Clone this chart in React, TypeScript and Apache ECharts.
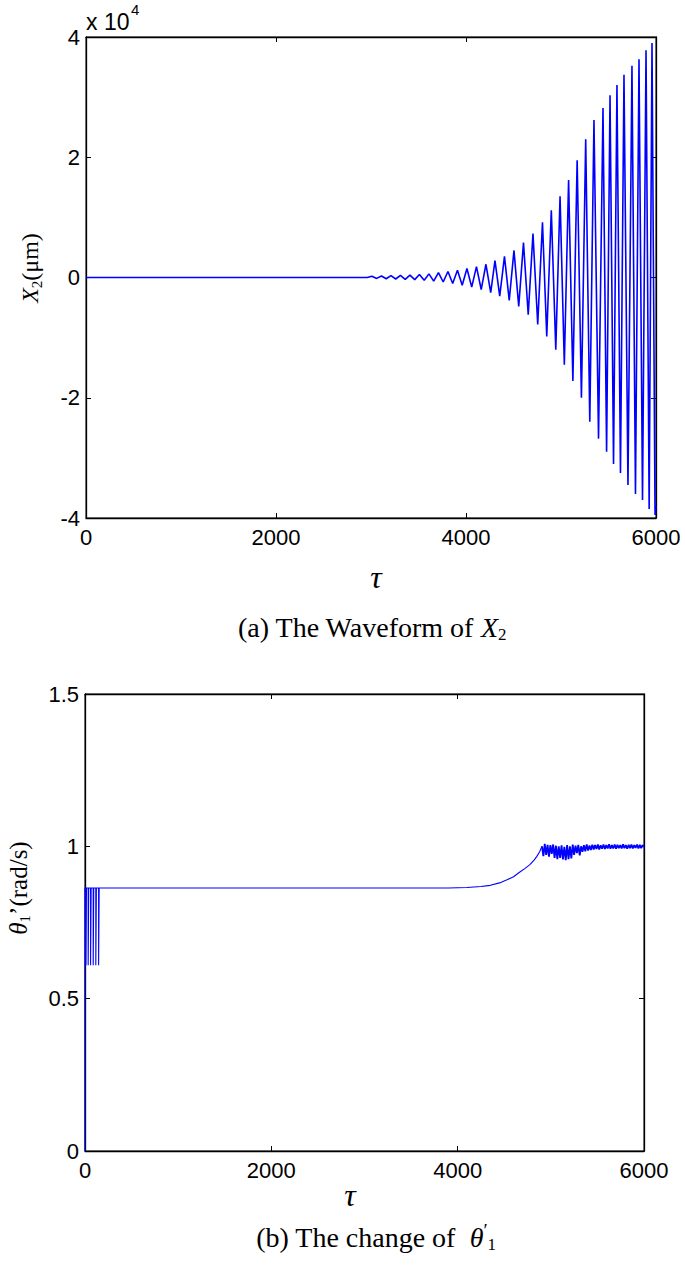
import React, { useEffect, useRef } from "react";
import * as echarts from "echarts";

// ---- Panel (a): waveform of X2 (values in units of 10^4 µm), read from extrema
const x2Tau = [
  0, 2960,
  3010, 3060, 3110, 3160, 3210, 3260, 3310, 3360, 3410, 3460,
  3510, 3560, 3610, 3660, 3710, 3760, 3810, 3860, 3910, 3960,
  4010, 4060, 4110, 4160, 4210, 4260, 4305, 4355, 4405, 4455,
  4505, 4555, 4605, 4655, 4705, 4755, 4805, 4850, 4898, 4945,
  4990, 5035, 5080, 5125, 5170, 5215, 5260, 5303, 5347, 5395,
  5442, 5480, 5516, 5553, 5589, 5626, 5663, 5705, 5747, 5784,
  5821, 5858, 5895, 5928, 5958, 5990, 6000,
];
const x2Val = [
  0, 0,
  0.02, -0.015, 0.025, -0.02, 0.03, -0.025, 0.035, -0.03, 0.04, -0.035,
  0.05, -0.045, 0.06, -0.06, 0.08, -0.075, 0.1, -0.1, 0.12, -0.13,
  0.15, -0.16, 0.18, -0.2, 0.22, -0.25, 0.28, -0.31, 0.35, -0.38,
  0.45, -0.48, 0.58, -0.62, 0.73, -0.78, 0.92, -0.98, 1.12, -1.2,
  1.35, -1.45, 1.62, -1.72, 1.95, -2.0, 2.3, -2.4, 2.62, -2.68,
  2.82, -2.9, 3.03, -3.1, 3.2, -3.25, 3.37, -3.45, 3.52, -3.6,
  3.63, -3.7, 3.78, -3.85, 3.9, -3.95, -3.8,
];

// ---- Panel (b): theta1' (rad/s)
const thetaTau = [
  0, 0,
  10, 10, 16, 16,
  34, 34, 40, 40,
  60, 60, 66, 66,
  88, 88, 94, 94,
  116, 116, 122, 122,
  146, 146, 152, 152,
  3900, 4100, 4250, 4350, 4450, 4530, 4600, 4660, 4720, 4775, 4820, 4850, 4880, 4905,
];
const thetaVal = [
  0, 0.863,
  0.863, 0.61, 0.61, 0.863,
  0.863, 0.61, 0.61, 0.863,
  0.863, 0.61, 0.61, 0.863,
  0.863, 0.61, 0.61, 0.863,
  0.863, 0.61, 0.61, 0.863,
  0.863, 0.61, 0.61, 0.863,
  0.863, 0.865, 0.868, 0.872, 0.88, 0.89, 0.9, 0.914, 0.927, 0.94, 0.955, 0.967, 0.982, 1.0,
];
// fluctuating band after tau = 4905, sampled every 15
const noiseStart = 4905;
const noiseStep = 15;
const noiseVal = [
  1.0, 0.968, 1.008, 0.972, 1.005, 0.966, 1.004, 0.975, 1.006, 0.962,
  1.002, 0.958, 1.0, 0.962, 1.003, 0.957, 0.998, 0.955, 1.004, 0.958,
  1.0, 0.96, 1.006, 0.972, 1.002, 0.978, 1.005, 0.97, 1.0, 0.982,
  1.004, 0.984, 1.006, 0.986, 1.003, 0.988, 1.005, 0.99, 1.004, 0.991,
  1.006, 0.99, 1.003, 0.992, 1.006, 0.991, 1.004, 0.993, 1.007, 0.992,
  1.004, 0.993, 1.006, 0.992, 1.005, 0.994, 1.004, 0.993, 1.007, 0.994,
  1.004, 0.992, 1.005, 0.994, 1.006, 0.993, 1.004, 0.995, 1.006, 0.993,
  1.005, 0.994, 1.004, 0.998,
];

const xTicks = { min: 0, max: 6000, interval: 2000 };
const yTicksA = { min: -4, max: 4, interval: 2 };
const yTicksB = { min: 0, max: 1.5, interval: 0.5 };

const SANS = "'Liberation Sans', Arial, Helvetica, sans-serif";
const SERIF = "'Liberation Serif', 'Times New Roman', serif";

export default function App() {
  const ref = useRef<HTMLDivElement>(null);
  useEffect(() => {
    document.body.style.margin = "0";
    const chart = echarts.init(ref.current!, null, { renderer: "svg" });

    const dataA = x2Tau.map((t, i) => [t, x2Val[i]]);
    const dataB = thetaTau.map((t, i) => [t, thetaVal[i]]);
    const dataN = noiseVal.map((v, i) => [noiseStart + noiseStep * i, v]);

    const axisLine = { show: true, onZero: false, lineStyle: { color: "#000", width: 1.3 } };
    const tick = { show: true, inside: true, length: 5, lineStyle: { color: "#000", width: 1 } };
    const label = { color: "#000", fontSize: 22, fontFamily: SANS, formatter: (v: number) => String(v) };

    const xAxisFor = (g: number, pos: "bottom" | "top") => ({
      gridIndex: g,
      type: "value",
      position: pos,
      ...xTicks,
      axisLine,
      axisTick: tick,
      axisLabel: pos === "bottom" ? { ...label, margin: 8 } : { show: false },
      splitLine: { show: false },
    });
    const yAxisFor = (g: number, pos: "left" | "right", t: any) => ({
      gridIndex: g,
      type: "value",
      position: pos,
      ...t,
      axisLine,
      axisTick: tick,
      axisLabel: pos === "left" ? { ...label, margin: 6 } : { show: false },
      splitLine: { show: false },
    });

    const mk = (fs: number, sub: number) => ({
      i: { fontFamily: SERIF, fontStyle: "italic", fontSize: fs, lineHeight: fs + 4 },
      n: { fontFamily: SERIF, fontSize: fs, lineHeight: fs + 4 },
      s: { fontFamily: SERIF, fontSize: sub, lineHeight: sub, verticalAlign: "bottom" },
      p: { fontFamily: SERIF, fontSize: sub + 2, lineHeight: fs + 4, verticalAlign: "top" },
    });
    const richY = mk(24, 15);
    const richYB = mk(25, 15);
    const richCap = mk(28, 17);

    chart.setOption({
      animation: false,
      grid: [
        { left: 86, top: 37, width: 570, height: 481, show: true, borderColor: "#000", borderWidth: 1 },
        { left: 85, top: 694, width: 559, height: 457, show: true, borderColor: "#000", borderWidth: 1 },
      ],
      xAxis: [xAxisFor(0, "bottom"), xAxisFor(0, "top"), xAxisFor(1, "bottom"), xAxisFor(1, "top")],
      yAxis: [
        yAxisFor(0, "left", yTicksA),
        yAxisFor(0, "right", yTicksA),
        yAxisFor(1, "left", yTicksB),
        yAxisFor(1, "right", yTicksB),
      ],
      series: [
        {
          type: "line",
          xAxisIndex: 0,
          yAxisIndex: 0,
          data: dataA,
          showSymbol: false,
          symbol: "none",
          lineStyle: { color: "#0000ff", width: 1.6 },
        },
        {
          type: "line",
          xAxisIndex: 2,
          yAxisIndex: 2,
          data: dataB,
          showSymbol: false,
          symbol: "none",
          lineStyle: { color: "#0000ff", width: 1.1 },
        },
        {
          type: "line",
          xAxisIndex: 2,
          yAxisIndex: 2,
          data: dataN,
          showSymbol: false,
          symbol: "none",
          lineStyle: { color: "#0000ff", width: 1.8 },
        },
      ],
      graphic: [
        { type: "text", x: 86, y: 33, style: { text: "x 10", font: `23px ${SANS}`, fill: "#000", align: "left", verticalAlign: "bottom" } },
        { type: "text", x: 131, y: 17, style: { text: "4", font: `15px ${SANS}`, fill: "#000", align: "left", verticalAlign: "bottom" } },
        {
          type: "text",
          x: 30,
          y: 268,
          rotation: Math.PI / 2,
          style: { text: "{i|X}{s|2}{n|(μm)}", rich: richY, fill: "#000", align: "center", verticalAlign: "middle" },
        },
        { type: "text", x: 376, y: 577, style: { text: "τ", font: `italic 32px ${SERIF}`, fill: "#000", align: "center", verticalAlign: "middle" } },
        {
          type: "text",
          x: 372,
          y: 627,
          style: { text: "{n|(a) The Waveform of }{i|X}{s|2}", rich: richCap, fill: "#000", align: "center", verticalAlign: "middle" },
        },
        {
          type: "text",
          x: 18,
          y: 888,
          rotation: Math.PI / 2,
          style: { text: "{i|θ}{s|1}{n|’(rad/s)}", rich: richYB, fill: "#000", align: "center", verticalAlign: "middle" },
        },
        { type: "text", x: 350, y: 1195, style: { text: "τ", font: `italic 32px ${SERIF}`, fill: "#000", align: "center", verticalAlign: "middle" } },
        {
          type: "text",
          x: 376,
          y: 1237,
          style: { text: "{n|(b) The change of  }{i|θ}{p|′}{s|1}", rich: richCap, fill: "#000", align: "center", verticalAlign: "middle" },
        },
      ],
    });
    return () => chart.dispose();
  }, []);
  return <div ref={ref} style={{ width: 685, height: 1267 }} />;
}
